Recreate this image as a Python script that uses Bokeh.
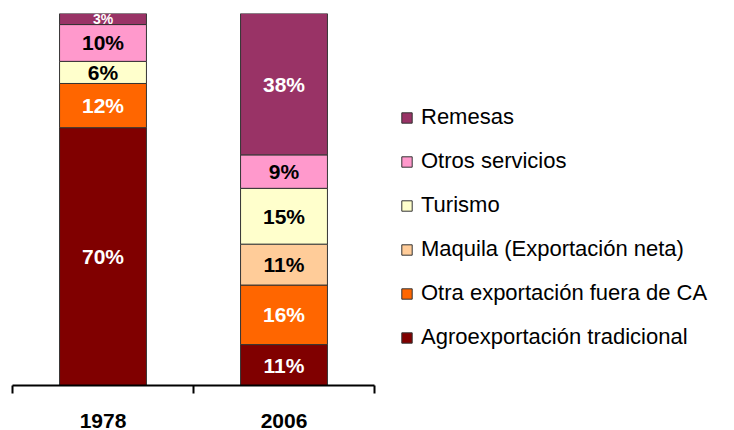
import numpy as np
from bokeh.plotting import figure
from bokeh.models import (ColumnDataSource, Range1d, FixedTicker, Legend, LegendItem)
from bokeh.core.properties import value
from bokeh.embed import file_html
from bokeh.resources import INLINE

# ---- data ----
years = ["1978", "2006"]
categories = ["Agroexportación tradicional", "Otra exportación fuera de CA",
              "Maquila (Exportación neta)", "Turismo", "Otros servicios", "Remesas"]
agro = [70, 11]
otra = [12, 16]
maquila = [0, 11]
turismo = [6, 15]
otros = [10, 9]
remesas = [3, 38]
colors = ["#800000", "#FF6600", "#FFCC99", "#FFFFCC", "#FF99CC", "#993366"]
label_colors = ["white", "white", "black", "black", "black", "white"]

series = [agro, otra, maquila, turismo, otros, remesas]
keys = ["agro", "otra", "maquila", "turismo", "otros", "remesas"]

vals = np.array(series, dtype=float)           # shape (6, 2)
shares = vals / vals.sum(axis=0) * 100.0       # normalise each bar to 100%
xpos = np.arange(len(years)) + 0.5

data = {"x": xpos}
for k, s in zip(keys, shares):
    data[k] = s
source = ColumnDataSource(data)

FONT = "Liberation Sans"
W, H = 718, 430
LEFT, TOP = 12, 13

p = figure(width=W, height=H, output_backend="svg", toolbar_location=None,
           x_range=Range1d(0, (W - LEFT) / 181.0), y_range=Range1d(0, 100),
           min_border_left=LEFT, min_border_right=0, min_border_top=TOP,
           min_border_bottom=H - 385)
p.outline_line_color = None
p.grid.visible = False
p.yaxis.visible = False
p.background_fill_color = "white"

rends = p.vbar_stack(keys, x="x", width=0.48, color=colors, source=source,
                     line_color="#333333", line_width=1)

# labels
lx, ly, lt, lc, ls = [], [], [], [], []
for i in range(len(keys)):
    bottom = shares[:i].sum(axis=0)
    for j in range(len(years)):
        if vals[i, j] > 0:
            lx.append(xpos[j])
            ly.append(bottom[j] + shares[i, j] / 2)
            lt.append(f"{int(vals[i, j])}%")
            lc.append(label_colors[i])
            ls.append("14px" if shares[i, j] < 4 else "21px")
lsrc = ColumnDataSource(dict(x=lx, y=ly, t=lt, c=lc, s=ls))
p.text(x="x", y="y", text="t", source=lsrc, text_align="center", text_baseline="middle",
       text_color="c", text_font_size="s", text_font=value(FONT), text_font_style="bold")

# x axis
ax = p.xaxis[0]
ax.ticker = FixedTicker(ticks=list(xpos), minor_ticks=[0, 1, 2])
ax.major_label_overrides = {float(x): y for x, y in zip(xpos, years)}
ax.bounds = (0, 2)
ax.axis_line_width = 2
ax.axis_line_color = "black"
ax.major_tick_in = 0
ax.major_tick_out = 0
ax.minor_tick_in = 0
ax.minor_tick_out = 8
ax.minor_tick_line_width = 2
ax.minor_tick_line_color = "black"
ax.major_label_text_font = FONT
ax.major_label_text_font_style = "bold"
ax.major_label_text_font_size = "21px"
ax.major_label_text_color = "black"
ax.major_label_standoff = 20

items = [LegendItem(label=c, renderers=[r]) for c, r in zip(categories, rends)][::-1]
legend = Legend(items=items, location=(388, 35), orientation="vertical",
                glyph_width=13, glyph_height=13, label_standoff=8, label_height=22,
                spacing=18, padding=0, margin=0,
                label_text_font=FONT, label_text_font_size="22px", label_text_color="black",
                border_line_color=None, background_fill_alpha=0)
p.add_layout(legend)

open("out.html", "w").write(file_html(p, INLINE))
